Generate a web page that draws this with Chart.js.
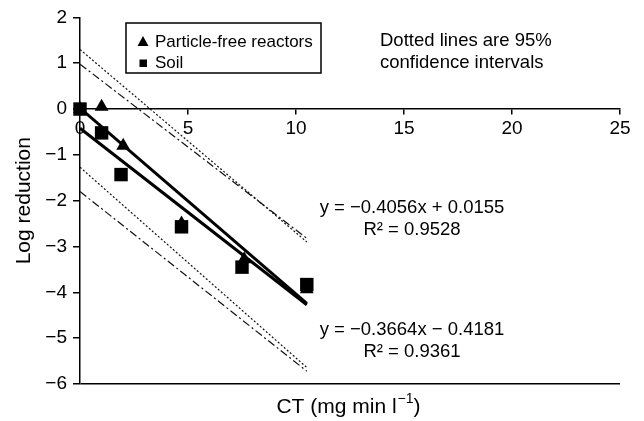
<!DOCTYPE html>
<html>
<head>
<meta charset="utf-8">
<script src="https://cdn.jsdelivr.net/npm/chart.js@4/dist/chart.umd.min.js"></script>
<style>
  html, body { margin: 0; padding: 0; background: #fff; }
  #wrap { width: 644px; height: 421px; }
</style>
</head>
<body>
<div id="wrap"><canvas id="chart" width="644" height="421"></canvas></div>
<script>
// values
const reactorCT = [0, 1, 2, 4.7, 7.6, 10.5];
const reactorLog = [0, 0.05, -0.8, -2.5, -3.28, -3.93];
const soilCT = [0, 1, 1.9, 4.7, 7.5, 10.5];
const soilLog = [0, -0.52, -1.43, -2.57, -3.45, -3.83];

// ends of the fitted lines and of the 95% bands
const lineCT = [0, 10.5];
const fitReactor = [0.02, -4.24];
const fitSoil = [-0.42, -4.27];
const upperDotted = [1.3, -2.9];
const upperDashDot = [0.98, -2.82];
const lowerDotted = [-1.27, -5.64];
const lowerDashDot = [-1.8, -5.72];

const xTicks = [0, 5, 10, 15, 20, 25];
const yTicks = [2, 1, 0, -1, -2, -3, -4, -5, -6];

const legendLabels = ["Particle-free reactors", "Soil"];
const noteLines = ["Dotted lines are 95%", "confidence intervals"];
const eqReactor = ["y = \u22120.4056x + 0.0155", "R\u00b2 = 0.9528"];
const eqSoil = ["y = \u22120.3664x \u2212 0.4181", "R\u00b2 = 0.9361"];

const FONT = '"Liberation Sans", Arial, Helvetica, sans-serif';

function pairs(xs, ys) {
  return xs.map((x, i) => ({ x: x, y: ys[i] }));
}

function bandLine(ys, dash) {
  return {
    type: "line",
    data: pairs(lineCT, ys),
    borderColor: "#111",
    borderWidth: 1.2,
    borderDash: dash,
    pointRadius: 0,
    fill: false,
  };
}

const textPlugin = {
  id: "texts",
  afterDraw(chart) {
    const ctx = chart.ctx;
    ctx.save();
    ctx.fillStyle = "#000";
    ctx.strokeStyle = "#000";

    // legend box
    ctx.lineWidth = 1.5;
    ctx.strokeRect(126, 23, 195, 50);
    ctx.beginPath();
    ctx.moveTo(143, 36);
    ctx.lineTo(148.5, 46);
    ctx.lineTo(137.5, 46);
    ctx.closePath();
    ctx.fill();
    ctx.fillRect(139.5, 59.5, 7.5, 7.5);
    ctx.font = "17px " + FONT;
    ctx.textBaseline = "middle";
    ctx.textAlign = "left";
    ctx.fillText(legendLabels[0], 155, 42);
    ctx.fillText(legendLabels[1], 155, 63);

    // note and equations
    ctx.font = "18.5px " + FONT;
    ctx.fillText(noteLines[0], 380, 41);
    ctx.fillText(noteLines[1], 380, 63);
    ctx.textAlign = "center";
    ctx.fillText(eqReactor[0], 412, 208);
    ctx.fillText(eqReactor[1], 412, 230);
    ctx.fillText(eqSoil[0], 412, 330);
    ctx.fillText(eqSoil[1], 412, 352);

    // x axis title with superscript
    const main = "CT (mg min l";
    const sup = "\u22121";
    const tail = ")";
    ctx.font = "21px " + FONT;
    const w1 = ctx.measureText(main).width;
    const w3 = ctx.measureText(tail).width;
    ctx.font = "14px " + FONT;
    const w2 = ctx.measureText(sup).width;
    let x = 348 - (w1 + w2 + w3) / 2;
    ctx.textAlign = "left";
    ctx.font = "21px " + FONT;
    ctx.fillText(main, x, 407);
    ctx.font = "14px " + FONT;
    ctx.fillText(sup, x + w1 + 1, 399);
    ctx.font = "21px " + FONT;
    ctx.fillText(tail, x + w1 + w2 + 1, 407);
    ctx.restore();
  },
};

new Chart(document.getElementById("chart"), {
  type: "scatter",
  data: {
    datasets: [
      {
        label: legendLabels[1],
        data: pairs(soilCT, soilLog),
        pointStyle: "rect",
        pointRadius: 9.5,
        backgroundColor: "#000",
        borderColor: "#000",
        borderWidth: 0,
        clip: false,
      },
      {
        label: legendLabels[0],
        data: pairs(reactorCT, reactorLog),
        pointStyle: "triangle",
        pointRadius: 8,
        backgroundColor: "#000",
        borderColor: "#000",
        borderWidth: 0,
        clip: false,
      },
      {
        type: "line",
        data: pairs(lineCT, fitReactor),
        borderColor: "#000",
        borderWidth: 3,
        pointRadius: 0,
        fill: false,
      },
      {
        type: "line",
        data: pairs(lineCT, fitSoil),
        borderColor: "#000",
        borderWidth: 3,
        pointRadius: 0,
        fill: false,
      },
      bandLine(upperDotted, [2, 2]),
      bandLine(upperDashDot, [8, 3, 2, 3]),
      bandLine(lowerDotted, [2, 2]),
      bandLine(lowerDashDot, [8, 3, 2, 3]),
    ],
  },
  options: {
    responsive: false,
    devicePixelRatio: 1,
    animation: false,
    layout: { padding: { left: 0, right: 24, top: 15, bottom: 37 } },
    plugins: {
      legend: { display: false },
      tooltip: { enabled: false },
    },
    scales: {
      x: {
        type: "linear",
        position: { y: 0 },
        min: 0,
        max: 25,
        afterBuildTicks: (scale) => {
          scale.ticks = xTicks.map((v) => ({ value: v }));
        },
        ticks: {
          color: "#000",
          font: { family: FONT, size: 19 },
          padding: 3,
          maxRotation: 0,
        },
        grid: {
          drawOnChartArea: false,
          tickColor: "#000",
          tickLength: 5,
          lineWidth: 1.5,
        },
        border: { color: "#000", width: 1.5 },
      },
      y: {
        type: "linear",
        position: "left",
        min: -6,
        max: 2,
        afterBuildTicks: (scale) => {
          scale.ticks = yTicks.map((v) => ({ value: v }));
        },
        afterFit: (scale) => {
          scale.width = 80;
        },
        ticks: {
          color: "#000",
          font: { family: FONT, size: 19 },
          padding: 6,
          callback: (v) => (v < 0 ? "\u2212" + Math.abs(v) : String(v)),
        },
        grid: {
          drawOnChartArea: true,
          color: (c) => (c.tick && c.tick.value === -6 ? "#000" : "rgba(0,0,0,0)"),
          tickColor: "#000",
          tickLength: 7,
          lineWidth: 1.5,
        },
        border: { color: "#000", width: 1.5 },
        title: {
          display: true,
          text: "Log reduction",
          color: "#000",
          font: { family: FONT, size: 21 },
          padding: { top: 12, bottom: 0 },
        },
      },
    },
  },
  plugins: [textPlugin],
});
</script>
</body>
</html>
